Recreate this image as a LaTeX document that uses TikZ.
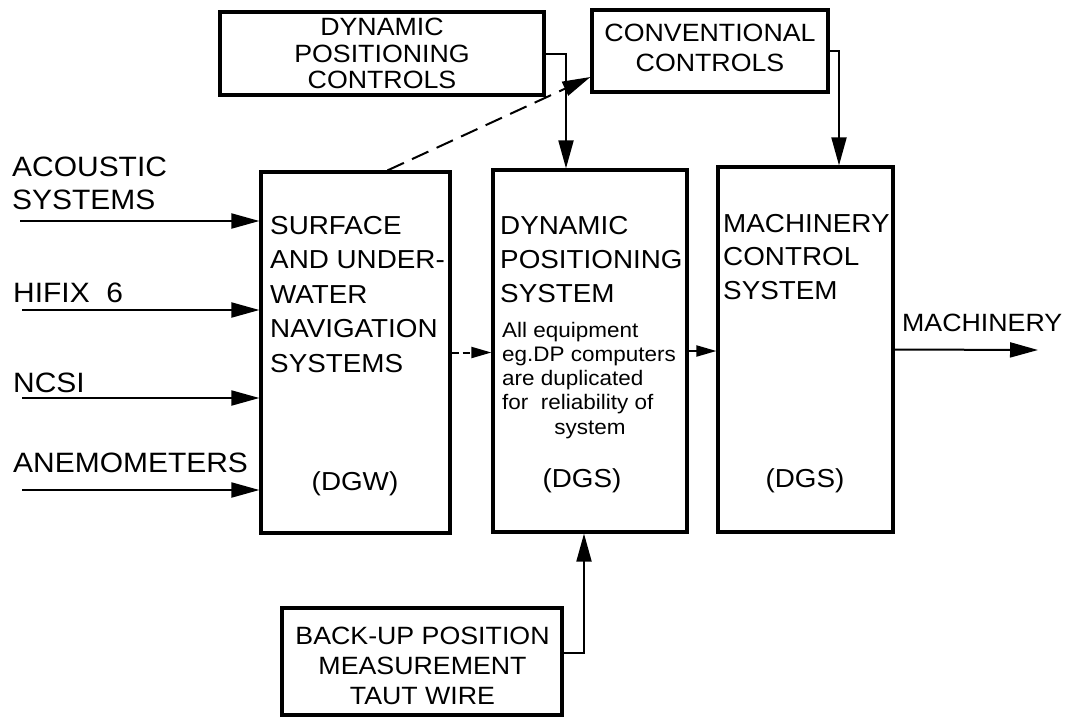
\documentclass[tikz,border=0pt]{standalone}
\usepackage{fontspec}
\setmainfont{Liberation Sans}[FakeStretch=1.07]
\usetikzlibrary{arrows.meta}
\begin{document}
\begin{tikzpicture}[x=1pt,y=-1pt,
  box/.style={draw, line width=3.2pt, inner sep=0pt},
  arr/.style={line width=2pt, -{Triangle[length=28pt,width=15pt]}},
  sarr/.style={line width=2pt, -{Triangle[length=20pt,width=11pt]}},
  dsh/.style={dash pattern=on 18pt off 9pt},
  sdsh/.style={dash pattern=on 7pt off 4pt},
  lbl/.style={font=\fontsize{28}{33}\selectfont, inner sep=0pt, align=left},
  bt/.style={font=\fontsize{26}{34.5}\selectfont, inner sep=0pt, align=left},
  ct/.style={font=\fontsize{25}{30}\selectfont, inner sep=0pt, align=center},
  st/.style={font=\fontsize{21}{24}\selectfont, inner sep=0pt, align=left}]
\fill[white] (0,0) rectangle (1070,718);
\useasboundingbox (0,0) rectangle (1070,718);

% boxes
\node[box, minimum width=324pt, minimum height=83pt, font=\fontsize{25}{26.5}\selectfont, align=center] (dpc) at (382,53.5) {DYNAMIC\\POSITIONING\\CONTROLS};
\node[box, minimum width=236pt, minimum height=82pt] (conv) at (710,51) {};
\node[ct] (tconv) at (710,48) {CONVENTIONAL\\CONTROLS};
\node[box, minimum width=189pt, minimum height=361pt] (surf) at (355.5,352.5) {};
\node[box, minimum width=194pt, minimum height=362pt] (dps) at (590,351) {};
\node[box, minimum width=175pt, minimum height=365pt] (mach) at (805.5,349.5) {};
\node[box, minimum width=280pt, minimum height=107pt] (back) at (422,661.5) {};
\node[ct] (tback) at (422.5,666) {BACK-UP POSITION\\MEASUREMENT\\TAUT WIRE};

% left labels
\node[lbl, anchor=north west] (tacou) at (12,157) {ACOUSTIC\\SYSTEMS};
\node[lbl, anchor=west] (thifix) at (13,293) {HIFIX\ \ 6};
\node[lbl, anchor=west] (tncsi) at (13,383) {NCSI};
\node[lbl, anchor=west] (tanem) at (13,463) {ANEMOMETERS};

% box texts
\node[bt, anchor=north west] (tsurf) at (270,216) {SURFACE\\AND UNDER-\\WATER\\NAVIGATION\\SYSTEMS};
\node[bt] (tdgw) at (355,484) {(DGW)};
\node[bt, anchor=north west, font=\fontsize{26}{34}\selectfont] (tdps) at (500,216) {DYNAMIC\\POSITIONING\\SYSTEM};
\node[st, anchor=north west] (tnote) at (502,322) {All equipment\\eg.DP computers\\are duplicated\\for\ \ reliability of};
\node[st, anchor=base] (tsys) at (590,434) {system};
\node[bt] (tdgs1) at (582,481) {(DGS)};
\node[bt, anchor=north west, font=\fontsize{26}{33.5}\selectfont] (tmach) at (723,214) {MACHINERY\\CONTROL\\SYSTEM};
\node[bt] (tdgs2) at (805,481) {(DGS)};
\node[bt, anchor=west, font=\fontsize{25}{30}\selectfont] (tmachy) at (902,323) {MACHINERY};

% inputs
\coordinate (i1) at (20,221);
\coordinate (i2) at (22,310);
\coordinate (i3) at (22,398);
\coordinate (i4) at (22,490);
\draw[arr] (i1) -- (i1 -| surf.west);
\draw[arr] (i2) -- (i2 -| surf.west);
\draw[arr] (i3) -- (i3 -| surf.west);
\draw[arr] (i4) -- (i4 -| surf.west);

% control connectors
\draw[arr] (dpc.east) -| ([xshift=-24pt]dps.north);
\draw[arr] (conv.east) -| ([xshift=33.5pt]mach.north);
\draw[arr, dsh] ([xshift=32pt]surf.north) -- ([yshift=-26pt]conv.west);

% between boxes
\draw[sarr, sdsh] (surf.east) -- (surf.east -| dps.west);
\draw[sarr] (dps.east) -- (dps.east -| mach.west);
\coordinate (out) at (1038,350);
\draw[arr] (mach.east) -- (out);
\draw[arr] ([yshift=8.5pt]back.east) -| ([xshift=-6pt]dps.south);
\end{tikzpicture}
\end{document}
